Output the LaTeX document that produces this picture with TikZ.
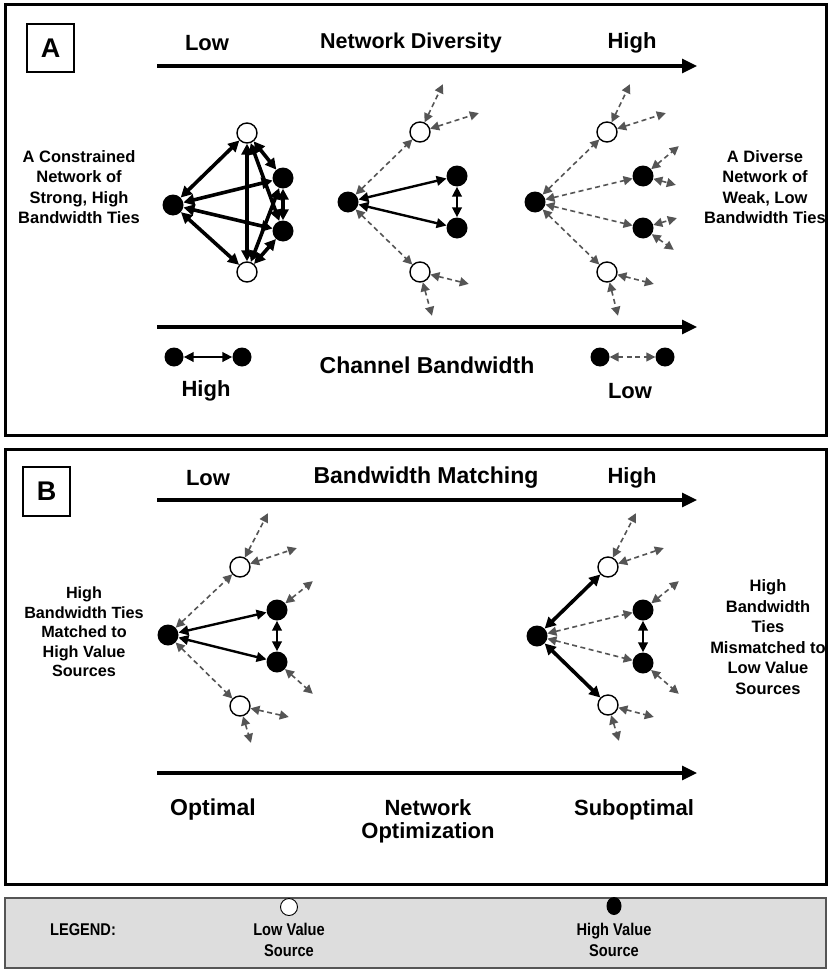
\documentclass[tikz,border=0pt]{standalone}
\usepackage{fontspec}
\setmainfont{Liberation Sans}
\newfontfamily\narrowf[FakeStretch=0.86]{Liberation Sans}
\usetikzlibrary{arrows.meta,shapes.geometric}
\definecolor{wk}{HTML}{555555}
\definecolor{lg}{HTML}{DDDDDD}
\begin{document}
\begin{tikzpicture}[x=1pt,y=-1pt,
  hv/.style={circle,fill=black,inner sep=0pt,minimum size=21pt},
  lv/.style={circle,draw=black,line width=1.4pt,fill=white,inner sep=0pt,minimum size=20pt},
  fr/.style={inner sep=0pt,minimum size=0pt},
  strong/.style={line width=3.6pt,{Triangle[length=11pt,width=11pt]}-{Triangle[length=11pt,width=11pt]}},
  mid/.style={line width=2.4pt,{Triangle[length=10pt,width=9.5pt]}-{Triangle[length=10pt,width=9.5pt]}},
  weak/.style={draw=wk,line width=1.6pt,dash pattern=on 5pt off 3.5pt,{Triangle[length=9pt,width=9pt]}-{Triangle[length=9pt,width=9pt]}},
  axis/.style={line width=3.2pt,-{Triangle[length=15pt,width=14pt]}},
  frame/.style={draw=black,line width=3pt},
  head/.style={font=\bfseries\fontsize{22}{25}\selectfont},
  side/.style={font=\bfseries\fontsize{16.5}{20.5}\selectfont,align=center},
  leg/.style={font=\narrowf\bfseries\fontsize{17}{21}\selectfont,align=center},
  lbox/.style={draw=black,line width=1.2pt,font=\bfseries\fontsize{27}{30}\selectfont,inner sep=0pt}
]
\useasboundingbox (0,0) rectangle (829,971);
% frames
\draw[frame] (5,5) rectangle (826,435);
\draw[frame] (5,449) rectangle (826,884);
\draw[draw=wk,line width=1.6pt,fill=lg] (5,898) rectangle (826,968);

% ---------------- Panel A ----------------
\node[lbox,minimum width=47pt,minimum height=48pt] (boxA) at (50.5,48) {A};
\node[head] (lowA) at (207,43) {Low};
\node[head,font=\bfseries\fontsize{21.5}{25}\selectfont] (divA) at (411,43) {Network Diversity};
\node[head] (highA) at (632,43) {High};
\coordinate (ax1s) at (157,66);
\coordinate (ax1e) at (697,66);
\draw[axis] (ax1s) -- (ax1e);

\node[side] (leftA) at (79,187) {A Constrained\\Network of\\Strong, High\\Bandwidth Ties};
\node[side] (rightA) at (765,187) {A Diverse\\Network of\\Weak, Low\\Bandwidth Ties};

% network 1
\node[hv] (a1L) at (173,205) {};
\node[lv] (a1T) at (247,133) {};
\node[lv] (a1B) at (247,272) {};
\node[hv] (a1U) at (283,178) {};
\node[hv] (a1D) at (283,231) {};
\foreach \p/\q in {a1L/a1T,a1L/a1B,a1L/a1U,a1L/a1D,a1T/a1B,a1T/a1U,a1T/a1D,a1B/a1U,a1B/a1D,a1U/a1D}
  \draw[strong] (\p) -- (\q);

% network 2
\node[hv] (a2L) at (348,202) {};
\node[lv] (a2T) at (420,132) {};
\node[hv] (a2U) at (457,176) {};
\node[hv] (a2D) at (457,228) {};
\node[lv] (a2B) at (420,272) {};
\node[fr] (a2t1) at (443,84) {};
\node[fr] (a2t2) at (479,113) {};
\node[fr] (a2b1) at (469,284) {};
\node[fr] (a2b2) at (432,316) {};
\draw[mid] (a2L) -- (a2U);
\draw[mid] (a2L) -- (a2D);
\draw[mid] (a2U) -- (a2D);
\draw[weak] (a2L) -- (a2T);
\draw[weak] (a2L) -- (a2B);
\draw[weak] (a2T) -- (a2t1);
\draw[weak] (a2T) -- (a2t2);
\draw[weak] (a2B) -- (a2b1);
\draw[weak] (a2B) -- (a2b2);

% network 3
\node[hv] (a3L) at (535,202) {};
\node[lv] (a3T) at (607,132) {};
\node[hv] (a3U) at (643,176) {};
\node[hv] (a3D) at (643,228) {};
\node[lv] (a3B) at (607,272) {};
\node[fr] (a3t1) at (630,84) {};
\node[fr] (a3t2) at (666,113) {};
\node[fr] (a3u1) at (679,146) {};
\node[fr] (a3u2) at (676,185) {};
\node[fr] (a3d1) at (677,218) {};
\node[fr] (a3d2) at (674,250) {};
\node[fr] (a3b1) at (654,284) {};
\node[fr] (a3b2) at (618,316) {};
\foreach \q in {a3T,a3U,a3D,a3B} \draw[weak] (a3L) -- (\q);
\draw[weak] (a3T) -- (a3t1);
\draw[weak] (a3T) -- (a3t2);
\draw[weak] (a3U) -- (a3u1);
\draw[weak] (a3U) -- (a3u2);
\draw[weak] (a3D) -- (a3d1);
\draw[weak] (a3D) -- (a3d2);
\draw[weak] (a3B) -- (a3b1);
\draw[weak] (a3B) -- (a3b2);

% channel bandwidth
\coordinate (ax2s) at (157,327);
\coordinate (ax2e) at (697,327);
\draw[axis] (ax2s) -- (ax2e);
\node[hv,minimum size=19pt] (c1) at (174,357) {};
\node[hv,minimum size=19pt] (c2) at (242,357) {};
\node[hv,minimum size=19pt] (c3) at (600,357) {};
\node[hv,minimum size=19pt] (c4) at (665,357) {};
\draw[mid] (c1) -- (c2);
\draw[weak] (c3) -- (c4);
\node[head,font=\bfseries\fontsize{23}{25}\selectfont] (chan) at (427,365) {Channel Bandwidth};
\node[head] (highc) at (206,391) {High};
\node[head] (lowc) at (630,391) {Low};

% ---------------- Panel B ----------------
\node[lbox,minimum width=47pt,minimum height=49pt] (boxB) at (46.5,491.5) {B};
\node[head] (lowB) at (208,478) {Low};
\node[head,font=\bfseries\fontsize{23}{25}\selectfont] (bmB) at (426,478) {Bandwidth Matching};
\node[head] (highB) at (632,478) {High};
\coordinate (ax3s) at (157,500);
\coordinate (ax3e) at (697,500);
\draw[axis] (ax3s) -- (ax3e);

\node[side,font=\bfseries\fontsize{16.2}{19.5}\selectfont] (leftB) at (84,632) {High\\Bandwidth Ties\\Matched to\\High Value\\Sources};
\node[side] (rightB) at (768,637) {High\\Bandwidth\\Ties\\Mismatched to\\Low Value\\Sources};

% network B left
\node[hv] (b1L) at (168,635) {};
\node[lv] (b1T) at (240,567) {};
\node[hv] (b1U) at (277,610) {};
\node[hv] (b1D) at (277,662) {};
\node[lv] (b1B) at (240,706) {};
\node[fr] (b1t1) at (268,513) {};
\node[fr] (b1t2) at (297,548) {};
\node[fr] (b1u1) at (313,581) {};
\node[fr] (b1d1) at (313,694) {};
\node[fr] (b1b1) at (289,717) {};
\node[fr] (b1b2) at (251,743) {};
\draw[mid] (b1L) -- (b1U);
\draw[mid] (b1L) -- (b1D);
\draw[mid] (b1U) -- (b1D);
\draw[weak] (b1L) -- (b1T);
\draw[weak] (b1L) -- (b1B);
\draw[weak] (b1T) -- (b1t1);
\draw[weak] (b1T) -- (b1t2);
\draw[weak] (b1U) -- (b1u1);
\draw[weak] (b1D) -- (b1d1);
\draw[weak] (b1B) -- (b1b1);
\draw[weak] (b1B) -- (b1b2);

% network B right
\node[hv] (b2L) at (537,636) {};
\node[lv] (b2T) at (608,567) {};
\node[hv] (b2U) at (643,610) {};
\node[hv] (b2D) at (643,663) {};
\node[lv] (b2B) at (608,705) {};
\node[fr] (b2t1) at (636,513) {};
\node[fr] (b2t2) at (664,548) {};
\node[fr] (b2u1) at (679,581) {};
\node[fr] (b2d1) at (679,694) {};
\node[fr] (b2b1) at (654,717) {};
\node[fr] (b2b2) at (619,741) {};
\draw[strong] (b2L) -- (b2T);
\draw[strong] (b2L) -- (b2B);
\draw[weak] (b2L) -- (b2U);
\draw[weak] (b2L) -- (b2D);
\draw[mid] (b2U) -- (b2D);
\draw[weak] (b2T) -- (b2t1);
\draw[weak] (b2T) -- (b2t2);
\draw[weak] (b2U) -- (b2u1);
\draw[weak] (b2D) -- (b2d1);
\draw[weak] (b2B) -- (b2b1);
\draw[weak] (b2B) -- (b2b2);

\coordinate (ax4s) at (157,773);
\coordinate (ax4e) at (697,773);
\draw[axis] (ax4s) -- (ax4e);
\node[head,font=\bfseries\fontsize{23}{25}\selectfont] (optB) at (213,810) {Optimal};
\node[head,align=center,font=\bfseries\fontsize{22}{23}\selectfont] (noB) at (428,821) {Network\\Optimization};
\node[head] (subB) at (634,810) {Suboptimal};

% ---------------- Legend ----------------
\node[leg] (legT) at (83,930) {LEGEND:};
\node[circle,draw=black,line width=0.9pt,fill=white,inner sep=0pt,minimum width=16pt,minimum height=17pt] (legW) at (289,907) {};
\node[ellipse,fill=black,inner sep=0pt,minimum width=15pt,minimum height=18pt] (legB) at (614,906) {};
\node[leg] (legWt) at (289,940) {Low Value\\Source};
\node[leg] (legBt) at (614,940) {High Value\\Source};
\end{tikzpicture}
\end{document}
